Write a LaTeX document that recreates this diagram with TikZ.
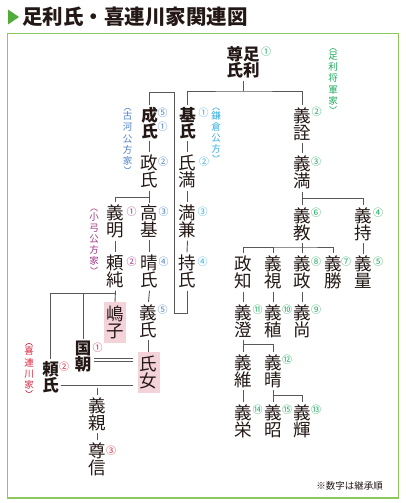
\documentclass[tikz,border=0pt]{standalone}
\usepackage{fontspec}
\setmainfont{Noto Sans CJK JP}
\usetikzlibrary{calc}
\definecolor{tx}{HTML}{231815}
\definecolor{lc}{HTML}{595757}
\definecolor{gr}{HTML}{1AAA5A}
\definecolor{cy}{HTML}{35AEE2}
\definecolor{kb}{HTML}{4A80C6}
\definecolor{pu}{HTML}{A23483}
\definecolor{rd}{HTML}{D9263F}
\definecolor{pk}{HTML}{F3D2DA}
\definecolor{fr}{HTML}{8CC85E}
\definecolor{tri}{HTML}{52AC3C}
\newcommand\famparen[2]{%
 \draw[#2, line width=0.6pt] ($(#1.north)+(-3.5,-1)$) .. controls ($(#1.north)+(-1.5,-4)$) and ($(#1.north)+(1.5,-4)$) .. ($(#1.north)+(3.5,-1)$);
 \draw[#2, line width=0.6pt] ($(#1.south)+(-3.5,1)$) .. controls ($(#1.south)+(-1.5,4)$) and ($(#1.south)+(1.5,4)$) .. ($(#1.south)+(3.5,1)$);}
\begin{document}
\begin{tikzpicture}[x=1pt,y=-1pt,
  nm/.style={inner sep=0pt, outer sep=2.5pt, align=center, text=tx, font=\fontsize{17.5}{17}\selectfont},
  bnm/.style={nm, font=\bfseries\fontsize{16.5}{16}\selectfont},
  pinkbox/.style={nm, outer sep=0pt, fill=pk, minimum width=22pt, minimum height=41pt},
  num/.style={inner sep=0pt, font=\fontsize{10}{10}\selectfont},
  lbl/.style={inner sep=0pt, align=center, font=\fontsize{9.5}{11.2}\selectfont},
  ln/.style={draw=lc, line width=0.9pt},
  dbl/.style={draw=lc, double=white, double distance=2pt, line width=0.7pt}]
\useasboundingbox (0,0) rectangle (406,503);
% title and frame
\fill[tri] (8,9.5) -- (19,17) -- (8,24.5) -- cycle;
\node[anchor=west, inner sep=0pt, text=tx, font=\bfseries\fontsize{20.5}{20}\selectfont] (title) at (22,17) {足利氏・喜連川家関連図};
\draw[fr, line width=1.5pt] (7.5,33.5) rectangle (398.5,498);
% names
\node[bnm] (takauji) at (243,62.5) {尊足\\氏利};
\node[bnm] (motouji) at (187.5,123) {基\\氏};
\node[bnm] (shigeuji) at (149.5,123) {成\\氏};
\node[nm] (yoshiakira) at (302,124) {義\\詮};
\node[nm] (masauji) at (149.5,171.5) {政\\氏};
\node[nm] (ujimitsu) at (187.5,171.5) {氏\\満};
\node[nm] (yoshimitsu) at (302,172.5) {義\\満};
\node[nm] (yoshiaki) at (115.5,221.5) {義\\明};
\node[nm] (takamoto) at (149.5,221.5) {高\\基};
\node[nm] (mitsukane) at (187.5,221.5) {満\\兼};
\node[nm] (yoshinori) at (302,224) {義\\教};
\node[nm] (yoshimochi) at (363,224) {義\\持};
\node[nm] (yorizumi) at (115.5,271.5) {頼\\純};
\node[nm] (haruuji) at (149.5,271.5) {晴\\氏};
\node[nm] (mochiuji) at (187,271.5) {持\\氏};
\node[nm] (masatomo) at (243,272.5) {政\\知};
\node[nm] (yoshimi) at (273,272.5) {義\\視};
\node[nm] (yoshimasa) at (302,272.5) {義\\政};
\node[nm] (yoshikatsu) at (333.5,272.5) {義\\勝};
\node[nm] (yoshikazu) at (363,272.5) {義\\量};
\node[pinkbox] (shimako) at (115,322.5) {嶋\\子};
\node[nm] (yoshiuji) at (148.5,321) {義\\氏};
\node[nm] (yoshizumi) at (243,321) {義\\澄};
\node[nm] (yoshitane) at (273,321) {義\\稙};
\node[nm] (yoshihisa) at (302,321) {義\\尚};
\node[bnm] (kunitomo) at (83,357) {国\\朝};
\node[pinkbox] (ujinyo) at (148.5,372.5) {氏\\女};
\node[nm] (yoshitsuna) at (243,371) {義\\維};
\node[nm] (yoshiharu) at (273,371) {義\\晴};
\node[bnm] (yoriuji) at (50.5,377.5) {頼\\氏};
\node[nm] (yoshichika) at (97.5,414) {義\\親};
\node[nm] (yoshihide) at (243,421) {義\\栄};
\node[nm] (yoshiaki2) at (273,421) {義\\昭};
\node[nm] (yoshiteru) at (302,421) {義\\輝};
\node[nm] (takanobu) at (97.5,459) {尊\\信};
% succession numbers
\node[num,text=gr] (n1) at (266,51.5) {①};
\node[num,text=gr] (n2) at (316.5,112) {②};
\node[num,text=cy] (n3) at (203.5,112.5) {①};
\node[num,text=kb] (n4) at (162.5,112.5) {⑤};
\node[num,text=kb] (n5) at (162.5,127) {①};
\node[num,text=kb] (n6) at (163,161.5) {②};
\node[num,text=cy] (n7) at (204,161.5) {②};
\node[num,text=gr] (n8) at (316,162) {③};
\node[num,text=pu] (n9) at (131.5,212) {①};
\node[num,text=kb] (n10) at (163.5,212) {③};
\node[num,text=cy] (n11) at (202.5,212) {③};
\node[num,text=gr] (n12) at (316,213) {⑥};
\node[num,text=gr] (n13) at (378,213) {④};
\node[num,text=pu] (n14) at (131.5,261.5) {②};
\node[num,text=kb] (n15) at (163.5,261.5) {④};
\node[num,text=cy] (n16) at (202.5,261.5) {④};
\node[num,text=gr] (n17) at (316,261.5) {⑧};
\node[num,text=gr] (n18) at (346,261.5) {⑦};
\node[num,text=gr] (n19) at (378,261.5) {⑤};
\node[num,text=kb] (n20) at (162.5,310) {⑤};
\node[num,text=gr] (n21) at (257.5,310) {⑪};
\node[num,text=gr] (n22) at (287,310) {⑩};
\node[num,text=gr] (n23) at (316,310) {⑨};
\node[num,text=rd] (n24) at (97.5,347.5) {①};
\node[num,text=gr] (n25) at (287,360) {⑫};
\node[num,text=rd] (n26) at (64,367) {②};
\node[num,text=gr] (n27) at (257.5,410) {⑭};
\node[num,text=gr] (n28) at (287,410) {⑮};
\node[num,text=gr] (n29) at (316,410) {⑬};
\node[num,text=rd] (n30) at (111,450.5) {③};
% family labels
\node[lbl,text=gr] (shogun) at (333,78.5) {足\\利\\将\\軍\\家};
\node[lbl,text=cy] (kamakura) at (216,132.5) {鎌\\倉\\公\\方};
\node[lbl,text=kb] (koga) at (127.5,138.5) {古\\河\\公\\方\\家};
\node[lbl,text=pu] (oyumi) at (94,239) {小\\弓\\公\\方\\家};
\node[lbl,text=rd] (kitsure) at (29,368) {喜\\連\\川\\家};
\famparen{shogun}{gr}
\famparen{kamakura}{cy}
\famparen{koga}{kb}
\famparen{oyumi}{pu}
\famparen{kitsure}{rd}
\node[anchor=east, inner sep=0pt, text=tx, font=\fontsize{9.5}{10}\selectfont] (note) at (383,486) {※数字は継承順};
% connectors
\coordinate (b1) at (243,91);
\draw[ln] (takauji.south) -- (b1);
\draw[ln] (motouji.north) |- (b1) -| (yoshiakira.north);
\coordinate (m1) at (174,313);
\coordinate (m2) at (174,92);
\draw[ln] (mochiuji.south) |- (m1) -- (m2) -| (shigeuji.north);
\draw[ln] (shigeuji.south) -- (masauji.north);
\draw[ln] (motouji.south) -- (ujimitsu.north);
\draw[ln] (ujimitsu.south) -- (mitsukane.north);
\draw[ln] (mitsukane.south) -- (mochiuji.north);
\draw[ln] (masauji.south) -- (takamoto.north);
\coordinate (b2) at (149.5,197);
\draw[ln] (yoshiaki.north) |- (b2);
\draw[ln] (takamoto.south) -- (haruuji.north);
\draw[ln] (haruuji.south) -- (yoshiuji.north);
\draw[ln] (yoshiaki.south) -- (yorizumi.north);
\draw[ln] (yorizumi.south) -- (shimako.north);
\coordinate (b5) at (115,293);
\draw[ln] (yoriuji.north) |- (b5);
\draw[ln] (kunitomo.north) -- (kunitomo.north |- b5);
\draw[ln] (yoshiuji.south) -- (ujinyo.north);
\draw[dbl, shorten >=5pt] (kunitomo.east |- 0,360) -- (ujinyo.west |- 0,360);
\draw[dbl, shorten >=5pt] (yoriuji.east |- 0,386.5) -- (ujinyo.west |- 0,386.5);
\coordinate (b6) at (97.5,387.5);
\draw[ln] (b6) -- (yoshichika.north);
\draw[ln] (yoshichika.south) -- (takanobu.north);
\draw[ln] (yoshiakira.south) -- (yoshimitsu.north);
\draw[ln] (yoshimitsu.south) -- (yoshinori.north);
\coordinate (b3) at (302,198);
\draw[ln] (b3) -| (yoshimochi.north);
\draw[ln] (yoshinori.south) -- (yoshimasa.north);
\coordinate (b4) at (302,247);
\draw[ln] (masatomo.north) |- (b4) -| (yoshikatsu.north);
\draw[ln] (yoshimi.north) -- (yoshimi.north |- b4);
\draw[ln] (yoshimochi.south) -- (yoshikazu.north);
\draw[ln] (masatomo.south) -- (yoshizumi.north);
\draw[ln] (yoshimi.south) -- (yoshitane.north);
\draw[ln] (yoshimasa.south) -- (yoshihisa.north);
\draw[ln] (yoshizumi.south) -- (yoshitsuna.north);
\coordinate (b7) at (243,344);
\draw[ln] (b7) -| (yoshiharu.north);
\draw[ln] (yoshitsuna.south) -- (yoshihide.north);
\draw[ln] (yoshiharu.south) -- (yoshiaki2.north);
\coordinate (b8) at (273,395);
\draw[ln] (b8) -| (yoshiteru.north);
\end{tikzpicture}
\end{document}
